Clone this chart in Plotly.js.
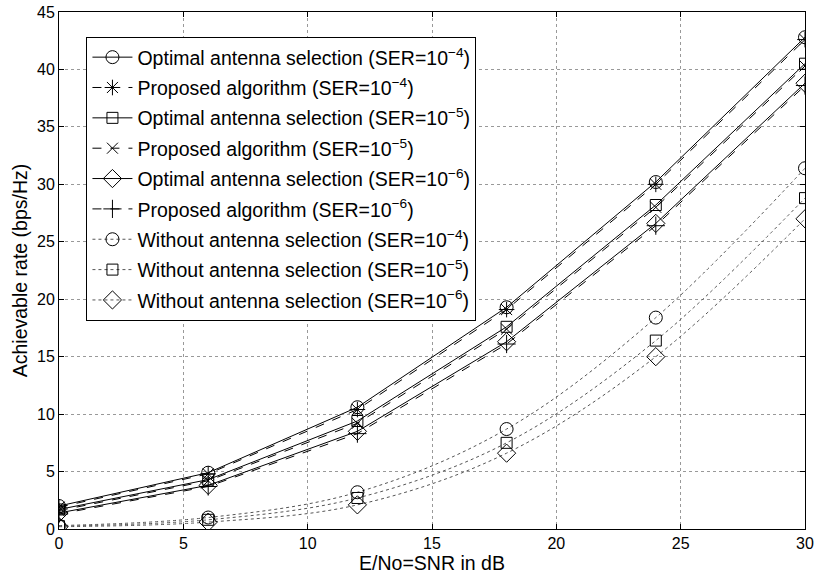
<!DOCTYPE html>
<html>
<head>
<meta charset="utf-8">
<script src="https://cdn.plot.ly/plotly-3.0.1.min.js"></script>
<style>html,body{margin:0;padding:0;background:#fff;}#chart{width:817px;height:576px;}</style>
</head>
<body>
<div id="chart"></div>
<script>
var snr = [0, 6, 12, 18, 24, 30];

var optimal4  = [2.0, 4.9, 10.6, 19.3, 30.2, 42.8];
var proposed4 = [1.9, 4.8, 10.4, 19.1, 30.0, 42.6];
var optimal5  = [1.7, 4.3, 9.4, 17.6, 28.2, 40.5];
var proposed5 = [1.6, 4.2, 9.2, 17.4, 28.0, 40.3];
var optimal6  = [1.4, 3.8, 8.5, 16.3, 26.6, 38.8];
var proposed6 = [1.3, 3.7, 8.3, 16.1, 26.4, 38.6];
var without4  = [0.3, 1.0, 3.2, 8.7, 18.4, 31.4];
var without5  = [0.25, 0.8, 2.7, 7.5, 16.4, 28.8];
var without6  = [0.2, 0.6, 2.1, 6.6, 15.0, 27.0];

var names = [
  'Optimal antenna selection (SER=10<sup>\u22124</sup>)',
  'Proposed algorithm (SER=10<sup>\u22124</sup>)',
  'Optimal antenna selection (SER=10<sup>\u22125</sup>)',
  'Proposed algorithm (SER=10<sup>\u22125</sup>)',
  'Optimal antenna selection (SER=10<sup>\u22126</sup>)',
  'Proposed algorithm (SER=10<sup>\u22126</sup>)',
  'Without antenna selection (SER=10<sup>\u22124</sup>)',
  'Without antenna selection (SER=10<sup>\u22125</sup>)',
  'Without antenna selection (SER=10<sup>\u22126</sup>)'
];

var series = [optimal4, proposed4, optimal5, proposed5, optimal6, proposed6, without4, without5, without6];
var dashes = ['solid', 'dash', 'solid', 'dash', 'solid', 'dash', 'dot', 'dot', 'dot'];
var symbols = ['circle-open', 'asterisk-open', 'square-open', 'x-thin-open', 'diamond-open', 'cross-thin-open', 'circle-open', 'square-open', 'diamond-open'];
var sizes = [13, 13, 11, 11, 14, 13, 13, 11, 14];

var traces = series.map(function (y, i) {
  var isWithout = i >= 6;
  return {
    x: snr, y: y, name: names[i], type: 'scatter', mode: 'lines+markers',
    legendgroup: 'g' + i,
    line: {color: isWithout ? '#555' : '#000', width: 1, dash: dashes[i], shape: isWithout ? 'spline' : 'linear'},
    marker: {symbol: symbols[i], size: sizes[i], color: '#000', line: {color: '#000', width: 1}}
  };
});

var fam = 'Liberation Sans, Arial, sans-serif';
var axisFont = {family: fam, size: 16, color: '#000'};
var layout = {
  width: 817, height: 576,
  paper_bgcolor: '#fff', plot_bgcolor: '#fff',
  margin: {l: 58.5, r: 11.5, t: 12, b: 46.5},
  showlegend: true,
  legend: {
    x: 0.0368, y: 0.9517, xanchor: 'left', yanchor: 'top',
    bgcolor: '#fff', bordercolor: '#000', borderwidth: 1,
    font: {family: fam, size: 19.5, color: '#000'},
    tracegroupgap: 2, itemwidth: 40
  },
  xaxis: {
    range: [0, 30], tickvals: [0, 5, 10, 15, 20, 25, 30], ticktext: ['0', '5', '10', '15', '20', '25', '30'],
    ticks: 'inside', ticklen: 5, tickcolor: '#000', showline: true, linecolor: '#000', linewidth: 1, mirror: 'ticks',
    showgrid: true, gridcolor: '#999', griddash: 'dot', gridwidth: 1, zeroline: false,
    tickfont: axisFont,
    title: {text: 'E/No=SNR in dB', font: {family: fam, size: 19.5, color: '#000'}, standoff: 4}
  },
  yaxis: {
    range: [0, 45], tickvals: [0, 5, 10, 15, 20, 25, 30, 35, 40, 45], ticktext: ['0', '5', '10', '15', '20', '25', '30', '35', '40', '45'],
    ticks: 'inside', ticklen: 5, tickcolor: '#000', showline: true, linecolor: '#000', linewidth: 1, mirror: 'ticks',
    showgrid: true, gridcolor: '#999', griddash: 'dot', gridwidth: 1, zeroline: false,
    tickfont: axisFont,
    title: {text: 'Achievable rate (bps/Hz)', font: {family: fam, size: 19.5, color: '#000'}, standoff: 4}
  }
};

Plotly.newPlot('chart', traces, layout, {displayModeBar: false, staticPlot: true});
</script>
</body>
</html>
